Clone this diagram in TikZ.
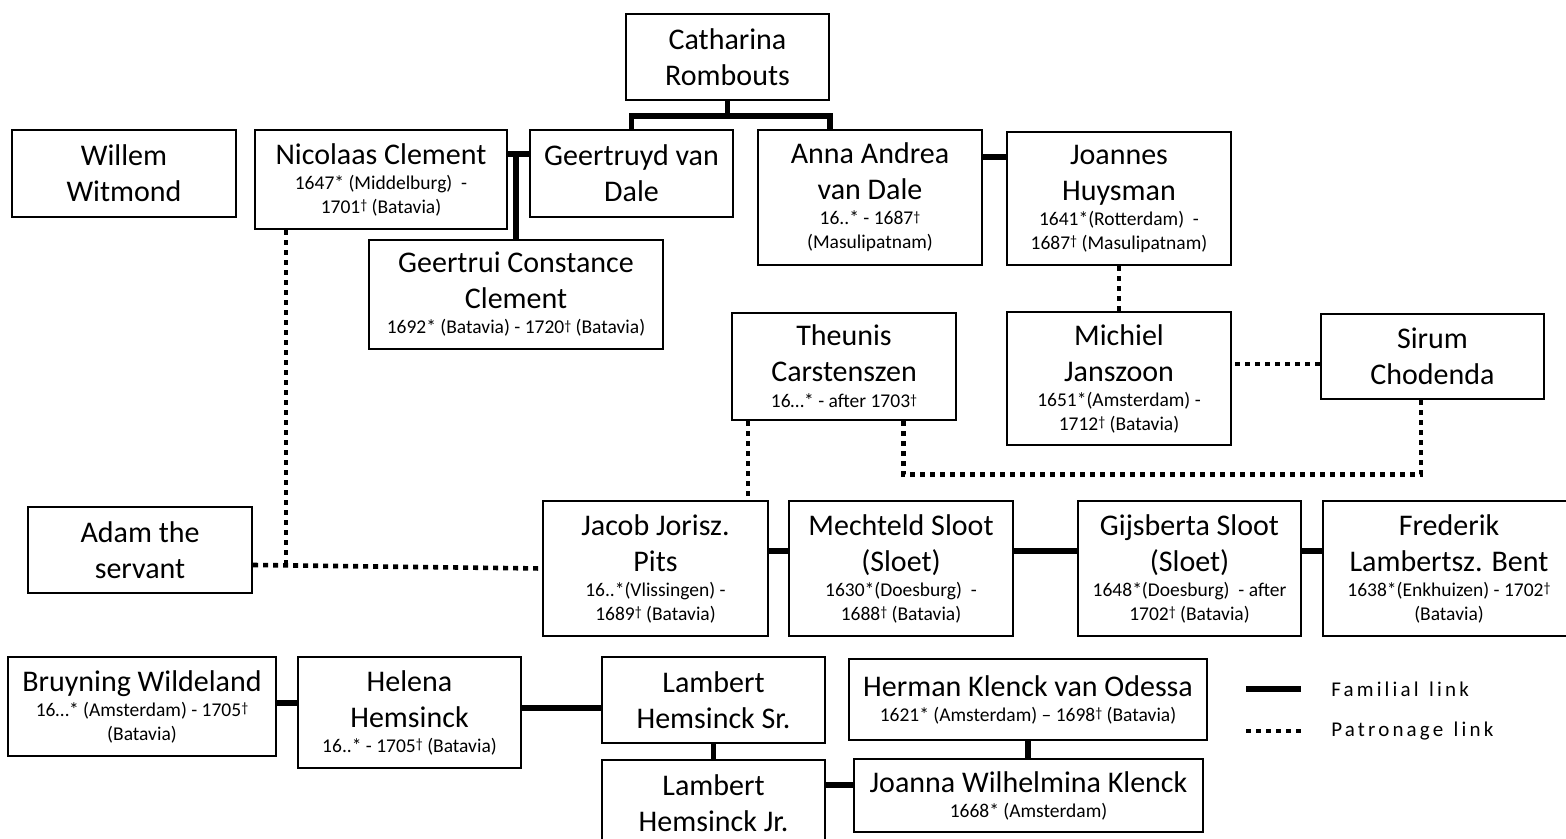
\documentclass[tikz,border=0pt]{standalone}
\usepackage{fontspec}
\setmainfont{Carlito}
\newfontfamily\legendfont[LetterSpace=15]{Carlito}
\usetikzlibrary{calc}
\newcommand{\dates}[1]{{\fontsize{9.75}{12}\selectfont #1}}
\newcommand{\dg}{\raisebox{0.4ex}{\fontsize{7}{8}\selectfont †}}

\begin{document}
\begin{tikzpicture}[x=0.5pt, y=-0.5pt,
		person/.style={draw, line width=1.2pt, align=center, inner sep=2pt, font=\fontsize{15}{18}\selectfont},
		famlink/.style={line width=2.8pt},
		patlink/.style={line width=2.3pt, dash pattern=on 2.5pt off 2.5pt},
		legendtext/.style={anchor=west, inner sep=0pt, font=\legendfont\fontsize{10.5}{12}\selectfont}]
		%%%%% START %%%%%
		\useasboundingbox (0,0) rectangle (1566,839);
		
		\node[person, minimum width=101.5pt, minimum height=43pt] (cath) at (727.5,57) {Catharina\\Rombouts};
		
		\node[person, minimum width=112pt, minimum height=43.5pt] (willem) at (124,173.5) {Willem\\Witmond};
		\node[person, minimum width=126pt, minimum height=49.5pt] (nicol) at (381,179.5) {Nicolaas Clement\\[-5.5pt]\dates{1647* (Middelburg)\ \ -}\\[-6pt]\dates{1701\dg\ (Batavia)}};
		\node[person, minimum width=101.5pt, minimum height=43.5pt] (geertruyd) at (631.5,173.5) {Geertruyd van\\Dale};
		\node[person, minimum width=112pt, minimum height=67.5pt] (anna) at (870,197.5) {Anna Andrea\\van Dale\\[-5.5pt]\dates{16..* - 1687\dg}\\[-6pt]\dates{(Masulipatnam)}};
		\node[person, minimum width=112pt, minimum height=66.5pt] (joannes) at (1119,198.5) {Joannes\\Huysman\\[-5.5pt]\dates{1641*(Rotterdam)\ \ -}\\[-6pt]\dates{1687\dg\ (Masulipatnam)}};
		\node[person, minimum width=147pt, minimum height=54.5pt] (geertrui) at (516,294.5) {Geertrui Constance\\Clement\\[-5.5pt]\dates{1692* (Batavia) - 1720\dg\ (Batavia)}};
		
		\node[person, minimum width=112pt, minimum height=53.5pt] (theunis) at (844,366.5) {Theunis\\Carstenszen\\[-5pt]\dates{16…* - after 1703\dg}};
		\node[person, minimum width=112pt, minimum height=66.5pt] (michiel) at (1119,378.5) {Michiel\\Janszoon\\[-5.5pt]\dates{1651*(Amsterdam) -}\\[-6pt]\dates{1712\dg\ (Batavia)}};
		\node[person, minimum width=111.5pt, minimum height=42.5pt] (sirum) at (1432.5,356.5) {Sirum\\Chodenda};
		
		\node[person, minimum width=112pt, minimum height=43pt] (adam) at (140,550) {Adam the\\servant};
		\node[person, minimum width=112.5pt, minimum height=67.5pt] (jacob) at (655.5,568.5) {Jacob Jorisz.\\Pits\\[-5.5pt]\dates{16..*(Vlissingen) -}\\[-6pt]\dates{1689\dg\ (Batavia)}};
		\node[person, minimum width=112pt, minimum height=67.5pt] (mechteld) at (901,568.5) {Mechteld Sloot\\(Sloet)\\[-5.5pt]\dates{1630*(Doesburg)\ \ -}\\[-6pt]\dates{1688\dg\ (Batavia)}};
		\node[person, minimum width=111.5pt, minimum height=67.5pt] (gijsberta) at (1189.5,568.5) {Gijsberta Sloot\\(Sloet)\\[-5.5pt]\dates{1648*(Doesburg)\ \ - after}\\[-6pt]\dates{1702\dg\ (Batavia)}};
		\node[person, minimum width=126pt, minimum height=67.5pt] (frederik) at (1449,568.5) {Frederik\\Lambertsz. Bent\\[-5.5pt]\dates{1638*(Enkhuizen) - 1702\dg}\\[-6pt]\dates{(Batavia)}};
		
		\node[person, minimum width=134pt, minimum height=49.5pt] (bruyning) at (142,706.5) {Bruyning Wildeland\\[-5.5pt]\dates{16…* (Amsterdam) - 1705\dg}\\[-6pt]\dates{(Batavia)}};
		\node[person, minimum width=111.5pt, minimum height=55.5pt] (helena) at (409.5,712.5) {Helena\\Hemsinck\\[-5.5pt]\dates{16..* - 1705\dg\ (Batavia)}};
		\node[person, minimum width=111.5pt, minimum height=43pt] (lsr) at (713.5,700) {Lambert\\Hemsinck Sr.};
		\node[person, minimum width=111.5pt, minimum height=43pt] (ljr) at (713.5,803) {Lambert\\Hemsinck Jr.};
		\node[person, minimum width=179pt, minimum height=40.5pt] (herman) at (1028,699.5) {Herman Klenck van Odessa\\[-5.5pt]\dates{1621* (Amsterdam) – 1698\dg\ (Batavia)}};
		\node[person, minimum width=174.5pt, minimum height=36.5pt] (joanna) at (1028.5,795.5) {Joanna Wilhelmina Klenck\\[-5.5pt]\dates{1668* (Amsterdam)}};
		
		% familial links
		\draw[famlink] (cath.south) -- ++(0,15) coordinate (bus);
		\draw[famlink] (geertruyd.north) |- (bus) -| ([xshift=36.5pt]anna.north west);
		\draw[famlink] ([yshift=-12.5pt]nicol.north east) coordinate (nc) -- ([yshift=-12.5pt]geertruyd.north west);
		\draw[famlink] (geertrui.north) -- (geertrui.north |- nc);
		\draw[famlink] ([yshift=-14pt]anna.north east) -- ([yshift=-13pt]joannes.north west);
		\draw[famlink] ([yshift=8.75pt]jacob.east) -- ([yshift=8.75pt]mechteld.west);
		\draw[famlink] ([yshift=8.75pt]mechteld.east) -- ([yshift=8.75pt]gijsberta.west);
		\draw[famlink] ([yshift=8.75pt]gijsberta.east) -- ([yshift=8.75pt]frederik.west);
		\draw[famlink] ([yshift=1.75pt]bruyning.east) coordinate (bh) -- (bh -| helena.west);
		\draw[famlink] ([yshift=2.25pt]helena.east) coordinate (hl) -- (hl -| lsr.west);
		\draw[famlink] (lsr.south) -- (ljr.north);
		\draw[famlink] (herman.south) -- (herman.south |- joanna.north);
		\draw[famlink] ([yshift=5.25pt]joanna.west) coordinate (jj) -- (jj -| ljr.east);
		
		% patronage links
		\draw[patlink] (joannes.south) -- (michiel.north);
		\draw[patlink] ([yshift=-3.75pt]sirum.west) coordinate (ms) -- (ms -| michiel.east);
		\draw[patlink] ([xshift=8.5pt]theunis.south west) coordinate (tj) -- (tj |- jacob.north);
		\draw[patlink] ([xshift=-27pt]theunis.south east) -- ++(0,53) -| ([xshift=-5.75pt]sirum.south);
		\draw[patlink] ([yshift=-7.5pt]adam.east) coordinate (aw) -- (jacob.west);
		\draw[patlink] ([xshift=16pt]nicol.south west) coordinate (nd) -- (nd |- aw);
		
		% legend
		\coordinate (famA) at (1246,689);
		\coordinate (famB) at (1301,689);
		\draw[famlink] (famA) -- (famB);
		\node[legendtext] (famtxt) at (1331,689) {Familial\enspace link};
		\coordinate (patA) at (1246,731);
		\coordinate (patB) at (1301,731);
		\draw[patlink] (patA) -- (patB);
		\node[legendtext] (pattxt) at (1331,731) {Patronage\enspace link};
		%%%%% END %%%%%
\end{tikzpicture}
\end{document}
